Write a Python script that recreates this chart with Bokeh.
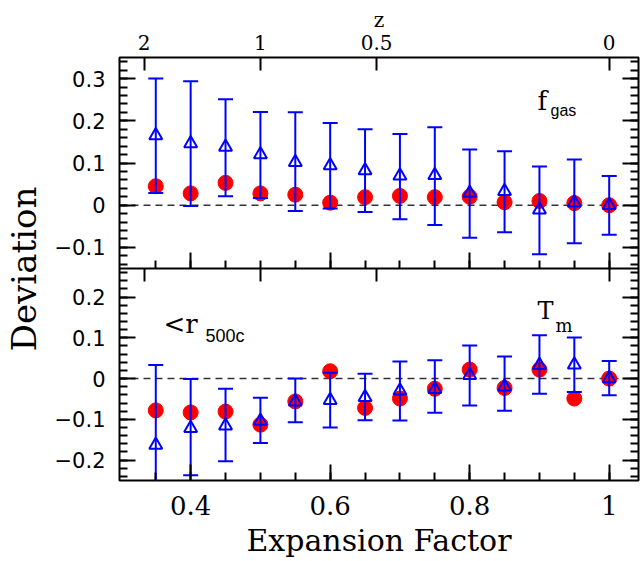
import numpy as np
from bokeh.plotting import figure
from bokeh.models import Range1d, LinearAxis, FixedTicker, Span, Label, CustomJSTickFormatter
from bokeh.embed import file_html
from bokeh.resources import INLINE

# ---------------- data ----------------
a = [0.35, 0.40, 0.45, 0.50, 0.55, 0.60, 0.65, 0.70, 0.75, 0.80, 0.85, 0.90, 0.95, 1.00]

fgas_red = [0.045, 0.028, 0.053, 0.028, 0.025, 0.006, 0.019, 0.022, 0.019, 0.020, 0.007, 0.010, 0.005, 0.000]
fgas_blue = [0.165, 0.146, 0.138, 0.120, 0.102, 0.094, 0.082, 0.070, 0.071, 0.029, 0.033, -0.011, 0.006, 0.000]
fgas_blue_hi = [0.300, 0.294, 0.251, 0.221, 0.220, 0.195, 0.180, 0.169, 0.185, 0.132, 0.128, 0.092, 0.108, 0.069]
fgas_blue_lo = [0.029, -0.002, 0.021, 0.017, -0.014, -0.008, -0.016, -0.033, -0.047, -0.077, -0.064, -0.116, -0.090, -0.070]

tm_red = [-0.078, -0.083, -0.081, -0.113, -0.056, 0.018, -0.072, -0.049, -0.025, 0.022, -0.023, 0.022, -0.049, 0.000]
tm_blue = [-0.163, -0.122, -0.116, -0.104, -0.057, -0.053, -0.046, -0.030, -0.026, 0.008, -0.020, 0.033, 0.034, 0.000]
tm_blue_hi = [0.033, -0.001, -0.025, -0.047, 0.000, 0.014, 0.012, 0.042, 0.045, 0.081, 0.054, 0.106, 0.101, 0.043]
tm_blue_lo = [-0.360, -0.237, -0.203, -0.158, -0.107, -0.120, -0.102, -0.103, -0.084, -0.066, -0.079, -0.037, -0.033, -0.041]

y_top_ticks = [-0.1, 0.0, 0.1, 0.2, 0.3]
y_top_labels = ["\u22120.1", "0", "0.1", "0.2", "0.3"]
y_bot_ticks = [-0.2, -0.1, 0.0, 0.1, 0.2]
y_bot_labels = ["\u22120.2", "\u22120.1", "0", "0.1", "0.2"]
x_ticks = [0.4, 0.6, 0.8, 1.0]
x_labels = ["0.4", "0.6", "0.8", "1"]
z_values = [2, 1, 0.5, 0]
z_labels = ["2", "1", "0.5", "0"]

# ---------------- layout ----------------
W, H = 644, 561
FT, FB, FL, FR = 57, 480, 117, 638
TOP_H = 211
FRAME_H = FB - FT
X0, X1 = 0.298, 1.042
TOP_RANGE = (-0.15, 0.35)
BOT_RANGE = (-0.25, 0.27)
top_start = TOP_RANGE[1] - (TOP_RANGE[1] - TOP_RANGE[0]) * FRAME_H / TOP_H
bot_end = BOT_RANGE[0] + (BOT_RANGE[1] - BOT_RANGE[0]) * FRAME_H / (FRAME_H - TOP_H)


def bot_to_main(v):
    """position of a lower-panel value in the main (upper-panel) y coordinate"""
    return top_start + (v - BOT_RANGE[0]) / (bot_end - BOT_RANGE[0]) * (TOP_RANGE[1] - top_start)


RED = "#ff0000"
BLUE = "#0000ff"
SERIF = "DejaVu Serif"
SANS = "DejaVu Sans"

p = figure(width=W, height=H, x_range=Range1d(X0, X1), y_range=Range1d(top_start, TOP_RANGE[1]),
           x_axis_location=None, y_axis_location=None, toolbar_location=None,
           output_backend="svg", min_border_left=FL, min_border_right=W - FR,
           min_border_top=FT, min_border_bottom=H - FB)
p.extra_y_ranges = {"bot": Range1d(BOT_RANGE[0], bot_end)}
p.grid.visible = False
p.outline_line_color = "black"
p.outline_line_width = 2
p.background_fill_color = "white"
p.border_fill_color = "white"

blank = CustomJSTickFormatter(code="return ''")


def style(ax, tin, minor_in=8):
    ax.axis_line_color = None
    ax.major_tick_in = tin
    ax.major_tick_out = 0
    ax.minor_tick_in = minor_in
    ax.minor_tick_out = 0
    ax.major_tick_line_width = 2
    ax.minor_tick_line_width = 2
    ax.major_tick_line_color = "black"
    ax.minor_tick_line_color = "black"


top_minor = [float(v) for v in np.round(np.arange(-0.14, 0.3401, 0.02), 3)]
bot_minor = [float(v) for v in np.round(np.arange(-0.24, 0.2601, 0.02), 3)]
x_minor = [float(v) for v in np.round(np.arange(0.35, 1.0001, 0.05), 3)]
z_ticks = [1.0 / (1.0 + z) for z in z_values]

# left axis carrying the tick labels of both panels + "Deviation"
left_ticks = y_top_ticks + [bot_to_main(v) for v in y_bot_ticks]
left_minor = top_minor + [bot_to_main(v) for v in bot_minor]
axl = LinearAxis(ticker=FixedTicker(ticks=left_ticks, minor_ticks=left_minor),
                 major_label_overrides=dict(zip(left_ticks, y_top_labels + y_bot_labels)),
                 axis_label="Deviation")
style(axl, 16)
axl.major_label_standoff = 14
axl.major_label_text_font = SANS
axl.major_label_text_font_size = "21px"
axl.major_label_text_color = "black"
axl.axis_label_text_font = SERIF
axl.axis_label_text_font_size = "34px"
axl.axis_label_text_font_style = "normal"
axl.axis_label_text_color = "black"
axl.axis_label_standoff = 8
p.add_layout(axl, "left")

# right-hand tick marks
for rname, ticks, minors in (("default", y_top_ticks, top_minor), ("bot", y_bot_ticks, bot_minor)):
    axr = LinearAxis(y_range_name=rname, fixed_location=X1,
                     ticker=FixedTicker(ticks=ticks, minor_ticks=minors), formatter=blank)
    style(axr, 16)
    p.add_layout(axr, "right")

# top z axis with labels
az = LinearAxis(ticker=FixedTicker(ticks=z_ticks, minor_ticks=[]),
                major_label_overrides=dict(zip(z_ticks, z_labels)), axis_label="z")
style(az, 13)
az.major_label_standoff = 8
az.major_label_text_font = SERIF
az.major_label_text_font_size = "20px"
az.major_label_text_color = "black"
az.axis_label_text_font = SERIF
az.axis_label_text_font_size = "20px"
az.axis_label_text_font_style = "normal"
az.axis_label_text_color = "black"
az.axis_label_standoff = 0
p.add_layout(az, "above")

# z ticks at the top of the lower panel
az2 = LinearAxis(y_range_name="bot", fixed_location=BOT_RANGE[1],
                 ticker=FixedTicker(ticks=z_ticks, minor_ticks=[]), formatter=blank)
style(az2, 13)
p.add_layout(az2, "above")

# a ticks at the bottom of the upper panel
ax2 = LinearAxis(fixed_location=TOP_RANGE[0],
                 ticker=FixedTicker(ticks=x_ticks, minor_ticks=x_minor), formatter=blank)
style(ax2, 16)
p.add_layout(ax2, "below")

# bottom a axis with labels
ax = LinearAxis(ticker=FixedTicker(ticks=x_ticks, minor_ticks=x_minor),
                major_label_overrides=dict(zip(x_ticks, x_labels)), axis_label="Expansion Factor")
style(ax, 16)
ax.major_label_standoff = 15
ax.major_label_text_font = SERIF
ax.major_label_text_font_size = "26px"
ax.major_label_text_color = "black"
ax.axis_label_text_font = SERIF
ax.axis_label_text_font_size = "30px"
ax.axis_label_text_font_style = "normal"
ax.axis_label_text_color = "black"
ax.axis_label_standoff = 5
p.add_layout(ax, "below")

# divider and zero lines
p.add_layout(Span(location=TOP_RANGE[0], dimension="width", line_color="black", line_width=2))
p.add_layout(Span(location=0, dimension="width", line_color="#333333", line_width=1.5,
                  line_dash="7 5", level="underlay"))
p.add_layout(Span(location=0, dimension="width", line_color="#333333", line_width=1.5,
                  line_dash="7 5", level="underlay", y_range_name="bot"))

# data
for rname, red, blue, hi, lo in (("default", fgas_red, fgas_blue, fgas_blue_hi, fgas_blue_lo),
                                 ("bot", tm_red, tm_blue, tm_blue_hi, tm_blue_lo)):
    p.scatter(a, red, size=15, fill_color=RED, line_color=RED, y_range_name=rname)
    p.segment(a, lo, a, hi, line_color=BLUE, line_width=2, y_range_name=rname)
    p.scatter(a, hi, marker="dash", size=15, line_color=BLUE, line_width=2, y_range_name=rname)
    p.scatter(a, lo, marker="dash", size=15, line_color=BLUE, line_width=2, y_range_name=rname)
    p.scatter(a, blue, marker="triangle", size=13, fill_color=None, line_color=BLUE,
              line_width=2, y_range_name=rname)


# panel annotations
def lab(text, cx, cy, font, size, **kw):
    p.add_layout(Label(x=cx - FL, y=FB - cy, x_units="screen", y_units="screen", text=text,
                       text_font=font, text_font_size=size, text_color="black",
                       text_align="left", text_baseline="alphabetic", **kw))


lab("f", 535, 100, SERIF, "26px")
lab("gas", 548, 110, "Liberation Sans", "16px")
lab("T", 535, 310, SERIF, "24px")
lab("m", 553, 325, SERIF, "18px")
lab("<r", 161, 323, SERIF, "26px")
lab("500c", 203, 335, "Liberation Sans", "18px")

open("out.html", "w").write(file_html(p, INLINE))
